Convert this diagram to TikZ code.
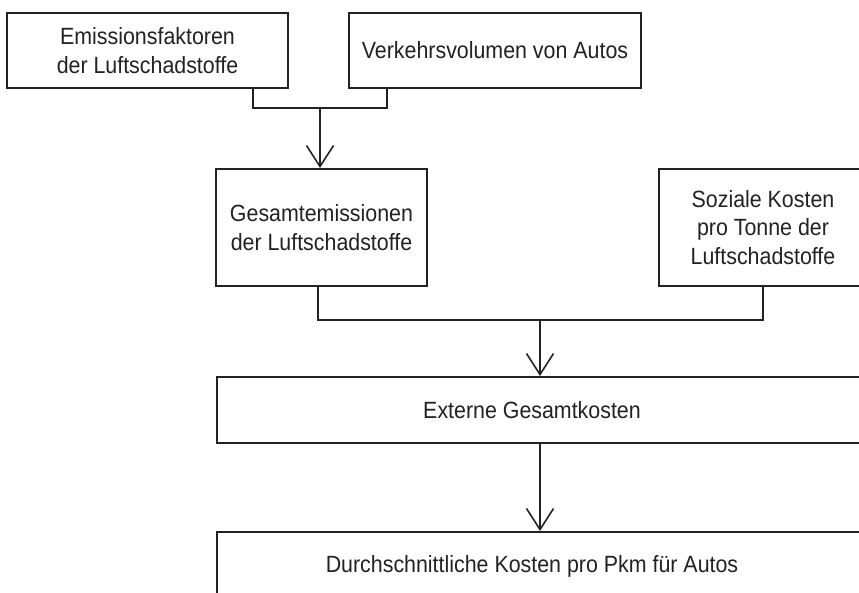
\documentclass[tikz,border=0pt]{standalone}
\usepackage{fontspec}
\setmainfont[FakeStretch=0.91]{Liberation Sans}
\usetikzlibrary{arrows.meta}
\definecolor{ink}{HTML}{222222}
\begin{document}
\begin{tikzpicture}[x=1pt,y=-1pt,
  box/.style={draw=ink, line width=2pt, rectangle, inner sep=0pt, align=center,
    font=\fontsize{23.5}{28.3}\selectfont, text=ink},
  lbl/.style={inner sep=0pt, align=center, font=\fontsize{23.5}{28.3}\selectfont, text=ink},
  conn/.style={draw=ink, line width=1.6pt},
  arr/.style={conn, -{Straight Barb[length=21pt,width=27pt,line width=1.6pt]}}]
\useasboundingbox (0,0) rectangle (859,592);
\clip (0,0) rectangle (859,592);
% boxes
\node[box, minimum width=281, minimum height=75] (emi) at (147.5,50.5)
  {Emissionsfaktoren\\der Luftschadstoffe};
\node[box, minimum width=292, minimum height=75] (vol) at (495,50.5)
  {Verkehrsvolumen von Autos};
\node[box, minimum width=211, minimum height=117] (ges) at (321.5,227.5)
  {Gesamtemissionen\\der Luftschadstoffe};
\node[box, minimum width=208, minimum height=117] (soz) at (763,227.5)
  {Soziale Kosten\\pro Tonne der\\Luftschadstoffe};
\node[box, minimum width=680, minimum height=66, anchor=west] (ext) at (216,410) {};
\node[lbl] (extl) at (532,410) {Externe Gesamtkosten};
\node[box, minimum width=680, minimum height=70, anchor=north west] (dur) at (216,531) {};
\node[lbl] (durl) at (532,566) {Durchschnittliche Kosten pro Pkm für Autos};
% connector 1
\coordinate (d1) at (253,108);
\coordinate (d2) at (387,108);
\coordinate (j1) at (320,108);
\draw[conn] (emi.south -| d1) -- (d1) -- (d2) -- (vol.south -| d2);
\draw[arr] (j1) -- (ges.north -| j1);
% connector 2
\coordinate (d3) at (318,320);
\coordinate (d4) at (763,320);
\coordinate (j2) at (540,320);
\draw[conn] (ges.south -| d3) -- (d3) -- (d4) -- (soz.south -| d4);
\draw[arr] (j2) -- (ext.north -| j2);
% connector 3
\coordinate (j3) at (540,443);
\draw[arr] (ext.south -| j3) -- (dur.north -| j3);
\end{tikzpicture}
\end{document}
